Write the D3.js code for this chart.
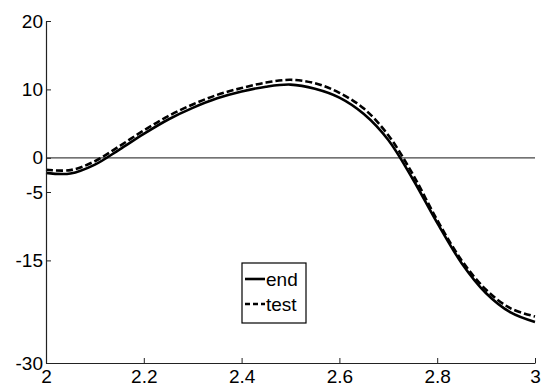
<!DOCTYPE html>
<html>
<head>
<meta charset="utf-8">
<script src="https://cdn.jsdelivr.net/npm/d3@7"></script>
<style>
  body { margin: 0; background: #fff; }
  text { font-family: "Liberation Sans", Arial, sans-serif; }
</style>
</head>
<body>
<svg id="chart" width="546" height="387"></svg>
<script>
// values
const xs = [2.0, 2.05, 2.1, 2.15, 2.2, 2.25, 2.3, 2.35, 2.4, 2.45, 2.5, 2.55, 2.6, 2.65, 2.7, 2.75, 2.8, 2.85, 2.9, 2.95, 3.0];
const endVals = [-2.2, -2.3, -1.0, 1.2, 3.5, 5.6, 7.3, 8.7, 9.7, 10.4, 10.7, 10.1, 8.8, 6.4, 2.6, -3.1, -9.5, -15.4, -19.8, -22.6, -24.0];
const testVals = [-1.75, -1.8, -0.5, 1.7, 4.0, 6.1, 7.8, 9.2, 10.2, 11.0, 11.4, 10.9, 9.5, 7.2, 3.3, -2.4, -9.1, -15.0, -19.3, -22.0, -23.2];
const xTicks = [2, 2.2, 2.4, 2.6, 2.8, 3];
const yTicks = [20, 10, 0, -5, -15, -30];
const seriesNames = ['end', 'test'];

const svg = d3.select('#chart');
const mLeft = 46, mRight = 535, mTop = 21, mBottom = 363;

const x = d3.scaleLinear().domain([2, 3]).range([mLeft, mRight]);
const y = d3.scaleLinear().domain([-30, 20]).range([mBottom, mTop]);

// zero line
svg.append('line')
  .attr('x1', x(2)).attr('x2', x(3))
  .attr('y1', y(0)).attr('y2', y(0))
  .attr('stroke', '#444').attr('stroke-width', 1.2);

const line = d3.line().curve(d3.curveCatmullRom.alpha(0.5))
  .x((d, i) => x(xs[i]))
  .y(d => y(d));

svg.append('path').datum(testVals)
  .attr('d', line)
  .attr('fill', 'none').attr('stroke', '#000')
  .attr('stroke-width', 2.6).attr('stroke-dasharray', '7,3');

svg.append('path').datum(endVals)
  .attr('d', line)
  .attr('fill', 'none').attr('stroke', '#000')
  .attr('stroke-width', 2.6);

// axes, ticks inside
const xAxis = svg.append('g').attr('transform', `translate(0,${mBottom})`)
  .call(d3.axisBottom(x).tickValues(xTicks).tickSizeInner(-5).tickSizeOuter(0).tickPadding(10)
    .tickFormat(d => String(d)));
const yAxis = svg.append('g').attr('transform', `translate(${mLeft},0)`)
  .call(d3.axisLeft(y).tickValues(yTicks).tickSizeInner(-5).tickSizeOuter(0).tickPadding(3)
    .tickFormat(d => String(d)));

[xAxis, yAxis].forEach(g => {
  g.select('.domain').attr('stroke', '#222').attr('stroke-width', 1.2);
  g.selectAll('.tick line').attr('stroke', '#222');
  g.selectAll('.tick text').attr('fill', '#000').style('font-size', '19px')
    .style('font-family', '"Liberation Sans", Arial, sans-serif');
});
xAxis.selectAll('.tick text').attr('dy', '0.55em');

// legend
const lg = svg.append('g').attr('transform', 'translate(242,263)');
lg.append('rect').attr('width', 64).attr('height', 60)
  .attr('fill', '#fff').attr('stroke', '#000').attr('stroke-width', 1.2);
const item = lg.selectAll('g.item').data(seriesNames).enter().append('g')
  .attr('class', 'item')
  .attr('transform', (d, i) => `translate(0,${16 + i * 25})`);
item.append('line').attr('x1', 3).attr('x2', 23).attr('y1', 0).attr('y2', 0)
  .attr('stroke', '#000').attr('stroke-width', 2.6)
  .attr('stroke-dasharray', (d, i) => i === 1 ? '5,3' : null);
item.append('text').attr('x', 24).attr('y', 0).attr('dy', '0.35em')
  .style('font-size', '19px').text(d => d);
</script>
</body>
</html>
